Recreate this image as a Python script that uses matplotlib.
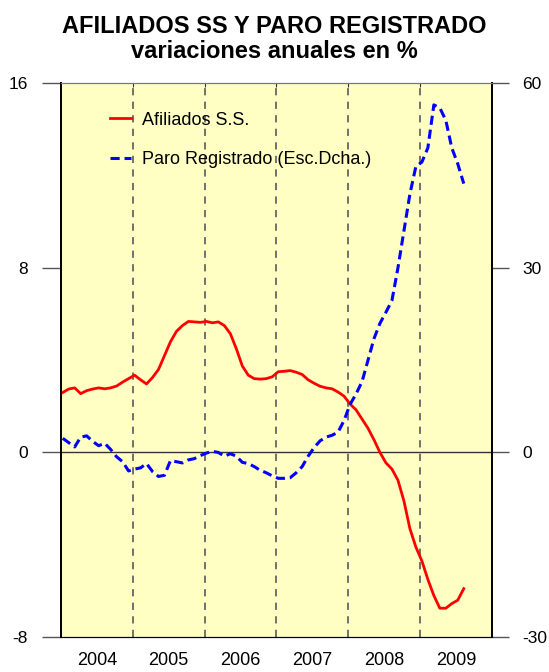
import numpy as np
import matplotlib.pyplot as plt

plt.rcParams['font.family'] = ['Liberation Sans', 'DejaVu Sans']
plt.rcParams['axes.unicode_minus'] = False

# monthly data, Jan 2004 onwards
afiliados = [2.6, 2.75, 2.8, 2.55, 2.68, 2.75, 2.8, 2.76, 2.8, 2.88, 3.05, 3.2,
             3.35, 3.15, 2.97, 3.25, 3.6, 4.2, 4.8, 5.25, 5.5, 5.68, 5.66, 5.64,
             5.68, 5.62, 5.66, 5.5, 5.15, 4.5, 3.75, 3.35, 3.2, 3.18, 3.2, 3.28,
             3.5, 3.52, 3.55, 3.48, 3.38, 3.15, 3.0, 2.87, 2.8, 2.76, 2.62, 2.44,
             2.1, 1.85, 1.45, 1.05, 0.55, 0.0, -0.45, -0.72, -1.2, -2.1, -3.3, -4.1,
             -4.7, -5.5, -6.2, -6.75, -6.75, -6.55, -6.4, -5.9]
paro = [2.3, 1.6, 0.9, 2.5, 2.7, 1.8, 1.1, 1.5, 0.5, -0.7, -1.5, -3.0,
        -2.7, -2.5, -1.8, -3.1, -3.9, -3.7, -1.3, -1.5, -1.7, -1.2, -1.0, -0.5,
        -0.1, 0.2, 0.0, -0.6, -0.2, -0.6, -1.6, -1.8, -2.3, -2.9, -3.3, -3.8,
        -4.2, -4.2, -4.1, -3.3, -2.3, -0.6, 0.8, 1.9, 2.5, 2.8, 3.3, 5.2,
        7.8, 9.5, 11.5, 15.0, 18.5, 21.0, 22.8, 24.7, 30.0, 36.0, 42.0, 46.5,
        47.2, 49.5, 56.5, 56.0, 54.0, 49.5, 46.9, 43.7]
years = [2004, 2005, 2006, 2007, 2008, 2009]

x = 2004 + (np.arange(len(afiliados)) + 0.3) / 12.0

fig = plt.figure(figsize=(5.49, 6.72), dpi=100)
ax = fig.add_axes([0.111, 0.052, 0.785, 0.824])
ax.set_facecolor('#ffffc4')
ax.set_xlim(2004, 2010)
ax.set_ylim(-8, 16)

for yr in years[1:]:
    ax.axvline(yr, color='#666666', lw=1.3, ls=(0, (4, 3.5)), zorder=1)
ax.axhline(0, color='#333333', lw=1, zorder=1)

l1, = ax.plot(x, afiliados, color='red', lw=2, zorder=3)

ax2 = ax.twinx()
ax2.set_ylim(-30, 60)
l2, = ax2.plot(x, paro, color='blue', lw=2.2, ls=(0, (3, 1.6)), zorder=3)

ax.set_yticks([-8, 0, 8, 16])
ax2.set_yticks([-30, 0, 30, 60])
ax.tick_params(axis='y', direction='out', length=14, width=1, color='#555555',
               labelsize=12.5, pad=10)
ax2.tick_params(axis='y', direction='out', length=12, width=1, color='#555555',
                labelsize=12.5, pad=10)

ax.set_xticks(years[1:])
ax.set_xticklabels([])
ax.set_xticks([y + 0.5 for y in years], minor=True)
ax.set_xticklabels([str(y) for y in years], minor=True)
ax.tick_params(axis='x', which='major', direction='in', top=True, bottom=False,
               length=3, color='#333333')
ax.tick_params(axis='x', which='minor', length=0, labelsize=13, pad=11)

for a in (ax, ax2):
    a.spines['top'].set_color('#777777')
    a.spines['left'].set_linewidth(1.3)
    a.spines['right'].set_linewidth(1.3)

ax.legend([l1, l2], ['Afiliados S.S.', 'Paro Registrado (Esc.Dcha.)'],
          loc='upper left', bbox_to_anchor=(0.113, 0.949), frameon=False,
          borderaxespad=0, borderpad=0, fontsize=13, handlelength=1.2,
          handletextpad=0.6, labelspacing=1.27)

fig.text(0.5, 0.961, 'AFILIADOS SS Y PARO REGISTRADO', ha='center', va='center',
         fontsize=17, fontweight='bold')
fig.text(0.5, 0.924, 'variaciones anuales en %', ha='center', va='center',
         fontsize=17, fontweight='bold')

fig.savefig('out.png', dpi=100)
